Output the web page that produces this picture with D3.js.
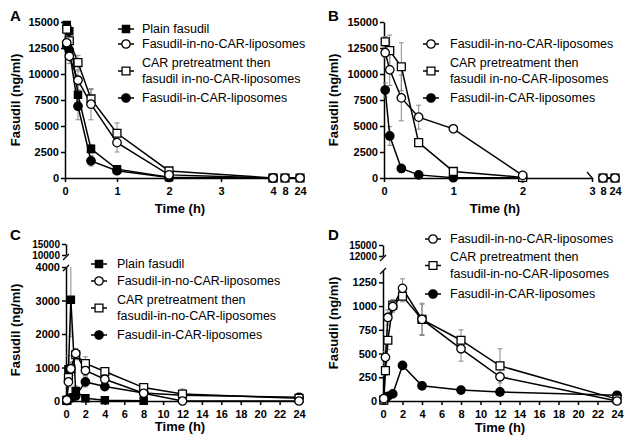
<!DOCTYPE html>
<html>
<head>
<meta charset="utf-8">
<script src="https://cdn.jsdelivr.net/npm/d3@7"></script>
<style>
  body { margin: 0; background: #fff; }
  text { font-family: "Liberation Sans", Arial, sans-serif; fill: #000; }
  .axis path, .axis line { stroke: #000; stroke-width: 1.5; }
  .axis text { font-size: 11px; font-weight: bold; }
  .axis.upper text { font-size: 10px; }
</style>
</head>
<body>
<svg id="chart" width="630" height="446"></svg>
<script>
// ---- data (ng/ml, SD) ----
const timesA = [0.033, 0.083, 0.25, 0.5, 1, 2, 4, 8, 24];
const plainA = [14700, 14100, 8000, 2800, 850, 80, 0];
const plainErrA = [400, 500, 900, 400, 150, 50, 0];
const noCarA = [13000, 11700, 9400, 7100, 3400, 300, 0, 0, 0];
const noCarErrA = [600, 700, 900, 1500, 900, 200, 0, 0, 0];
const carPreA = [14300, 13200, 11100, 7600, 4300, 680, 0, 0, 0];
const carPreErrA = [500, 600, 700, 900, 1000, 200, 0, 0, 0];
const inCarA = [12700, 12300, 6900, 1650, 700, 50, 0];
const inCarErrA = [500, 700, 1300, 500, 150, 50, 0];

const timesB = [0.017, 0.083, 0.25, 0.5, 1, 2, 8, 24];
const noCarB = [12050, 10400, 7700, 5850, 4730, 250, 0, 0];
const noCarErrB = [500, 1500, 2200, 1150, 150, 100, 0, 0];
const carPreB = [13100, 12250, 10700, 3400, 630, 60, 0, 0];
const carPreErrB = [500, 1500, 2300, 300, 100, 50, 0, 0];
const inCarB = [8460, 4040, 920, 300, 30, 10];
const inCarErrB = [700, 900, 200, 100, 20, 0];

const timesC = [0.083, 0.25, 0.5, 1, 2, 4, 8, 12, 24];
const plainC = [30, 950, 3020, 300, 80, 20, 10];
const plainErrC = [20, 400, 1100, 150, 30, 10, 5];
const noCarC = [30, 570, 960, 1420, 910, 650, 230, 0, 0];
const noCarErrC = [20, 150, 200, 150, 150, 100, 60, 0, 0];
const carPreC = [20, 700, 960, 1380, 1120, 880, 400, 210, 80];
const carPreErrC = [20, 150, 200, 150, 200, 120, 80, 150, 30];
const inCarC = [10, 40, 90, 150, 570, 430, 240, 170, 110];
const inCarErrC = [5, 20, 40, 50, 150, 80, 50, 40, 30];

const timesD = [0.083, 0.25, 0.5, 1, 2, 4, 8, 12, 24];
const noCarD = [25, 460, 880, 995, 1187, 860, 550, 255, 0];
const noCarErrD = [10, 60, 80, 60, 100, 170, 130, 130, 0];
const carPreD = [10, 320, 640, 1010, 1105, 860, 640, 370, 20];
const carPreErrD = [5, 50, 100, 60, 60, 160, 110, 180, 10];
const inCarD = [10, 25, 50, 75, 375, 160, 115, 95, 60];
const inCarErrD = [5, 10, 15, 15, 20, 15, 10, 10, 10];

const yTicksAB = [0, 2500, 5000, 7500, 10000, 12500, 15000];
const yTicksC = [0, 1000, 2000, 3000, 4000];
const yTicksD = [0, 250, 500, 750, 1000, 1250];
const xTicksCD = [0, 2, 4, 6, 8, 10, 12, 14, 16, 18, 20, 22, 24];

const labels = {
  plain: ['Plain fasudil'],
  noCar: ['Fasudil-in-no-CAR-liposomes'],
  carPreAB: ['CAR pretreatment then', 'fasudil in-no-CAR-liposomes'],
  carPreCD: ['CAR pretreatment then', 'fasudil-in-no-CAR-liposomes'],
  inCar: ['Fasudil-in-CAR-liposomes']
};

const styles = {
  plain: {shape: 'square', filled: true},
  noCar: {shape: 'circle', filled: false},
  carPre: {shape: 'square', filled: false},
  inCar: {shape: 'circle', filled: true}
};

const panels = [
  {
    letter: 'A', letterPos: [10, 21],
    times: timesA,
    xDomain: [0, 4], xRange: [65, 273], xTicks: [0, 1, 2, 3, 4],
    miniDomain: [8, 24], miniRange: [285, 300], miniTicks: [8, 24],
    yDomain: [0, 15000], yRange: [178, 22], yTicks: yTicksAB,
    yTitle: [15, 100], xTitle: [180, 213],
    series: [
      {key: 'plain', v: plainA, e: plainErrA},
      {key: 'inCar', v: inCarA, e: inCarErrA},
      {key: 'carPre', v: carPreA, e: carPreErrA},
      {key: 'noCar', v: noCarA, e: noCarErrA}
    ],
    legend: {sx: 126, tx: 142, items: [
      {key: 'plain', text: labels.plain, rows: [29]},
      {key: 'noCar', text: labels.noCar, rows: [44]},
      {key: 'carPre', text: labels.carPreAB, rows: [63, 79]},
      {key: 'inCar', text: labels.inCar, rows: [98]}
    ]}
  },
  {
    letter: 'B', letterPos: [328, 21],
    times: timesB,
    xDomain: [0, 3], xRange: [384, 592], xTicks: [0, 1, 2, 3], endSlash: true,
    miniDomain: [8, 24], miniRange: [603, 615], miniTicks: [8, 24],
    yDomain: [0, 15000], yRange: [178, 22], yTicks: yTicksAB,
    yTitle: [333, 100], xTitle: [495, 213],
    series: [
      {key: 'inCar', v: inCarB, e: inCarErrB},
      {key: 'carPre', v: carPreB, e: carPreErrB},
      {key: 'noCar', v: noCarB, e: noCarErrB}
    ],
    legend: {sx: 431, tx: 450, items: [
      {key: 'noCar', text: labels.noCar, rows: [44]},
      {key: 'carPre', text: labels.carPreAB, rows: [63, 79]},
      {key: 'inCar', text: labels.inCar, rows: [98]}
    ]}
  },
  {
    letter: 'C', letterPos: [10, 240],
    times: timesC,
    xDomain: [0, 24], xRange: [66, 299], xTicks: xTicksCD,
    yDomain: [0, 4000], yRange: [401, 267], yTicks: yTicksC,
    upperDomain: [10000, 15000], upperRange: [255, 244], upperTicks: [10000, 15000],
    yTitle: [15, 330], xTitle: [180, 431],
    series: [
      {key: 'plain', v: plainC, e: plainErrC},
      {key: 'inCar', v: inCarC, e: inCarErrC},
      {key: 'carPre', v: carPreC, e: carPreErrC},
      {key: 'noCar', v: noCarC, e: noCarErrC}
    ],
    legend: {sx: 99, tx: 117, items: [
      {key: 'plain', text: labels.plain, rows: [264]},
      {key: 'noCar', text: labels.noCar, rows: [281]},
      {key: 'carPre', text: labels.carPreCD, rows: [300, 316]},
      {key: 'inCar', text: labels.inCar, rows: [335]}
    ]}
  },
  {
    letter: 'D', letterPos: [328, 240],
    times: timesD,
    xDomain: [0, 24], xRange: [383, 617], xTicks: xTicksCD,
    yDomain: [0, 1380], yRange: [401, 270], yTicks: yTicksD,
    upperDomain: [12000, 15000], upperRange: [256, 245], upperTicks: [12000, 15000],
    yTitle: [333, 323], xTitle: [500, 432],
    series: [
      {key: 'inCar', v: inCarD, e: inCarErrD},
      {key: 'carPre', v: carPreD, e: carPreErrD},
      {key: 'noCar', v: noCarD, e: noCarErrD}
    ],
    legend: {sx: 433, tx: 450, items: [
      {key: 'noCar', text: labels.noCar, rows: [239]},
      {key: 'carPre', text: labels.carPreCD, rows: [257, 274]},
      {key: 'inCar', text: labels.inCar, rows: [294]}
    ]}
  }
];

const svg = d3.select('#chart');

function symbolPath(key) {
  const s = styles[key];
  return d3.symbol()
    .type(s.shape === 'square' ? d3.symbolSquare : d3.symbolCircle)
    .size(s.shape === 'square' ? (s.filled ? 52 : 62) : 56)();
}

function drawMarker(g, key, x, y) {
  const s = styles[key];
  g.append('path')
    .attr('d', symbolPath(key))
    .attr('transform', 'translate(' + x + ',' + y + ')')
    .attr('fill', s.filled ? '#000' : '#fff')
    .attr('stroke', '#000')
    .attr('stroke-width', 1.3);
}

function drawPanel(p) {
  const g = svg.append('g');

  const xMain = d3.scaleLinear().domain(p.xDomain).range(p.xRange);
  const xMini = p.miniDomain ? d3.scaleLinear().domain(p.miniDomain).range(p.miniRange) : null;
  const y = d3.scaleLinear().domain(p.yDomain).range(p.yRange);
  const isMini = t => xMini && t > p.xDomain[1];
  const xPos = t => isMini(t) ? xMini(t) : xMain(t);
  const y0 = p.yRange[0];
  const x0 = p.xRange[0];

  // axes
  g.append('g').attr('class', 'axis')
    .attr('transform', 'translate(0,' + y0 + ')')
    .call(d3.axisBottom(xMain).tickValues(p.xTicks).tickSize(4).tickSizeOuter(0).tickPadding(5).tickFormat(d3.format('d')));
  if (xMini) {
    g.append('g').attr('class', 'axis')
      .attr('transform', 'translate(0,' + y0 + ')')
      .call(d3.axisBottom(xMini).tickValues(p.miniTicks).tickSize(4).tickSizeOuter(0).tickPadding(5).tickFormat(d3.format('d')));
  }
  if (p.endSlash) {
    const xe = p.xRange[1];
    g.append('line').attr('x1', xe - 5).attr('y1', y0 - 6).attr('x2', xe + 1).attr('y2', y0 + 1)
      .attr('stroke', '#000').attr('stroke-width', 1.3);
  }
  g.append('g').attr('class', 'axis')
    .attr('transform', 'translate(' + x0 + ',0)')
    .call(d3.axisLeft(y).tickValues(p.yTicks).tickSize(4).tickSizeOuter(0).tickPadding(2).tickFormat(d3.format('d')));

  if (p.upperDomain) {
    const yUp = d3.scaleLinear().domain(p.upperDomain).range(p.upperRange);
    g.append('g').attr('class', 'axis upper')
      .attr('transform', 'translate(' + x0 + ',0)')
      .call(d3.axisLeft(yUp).tickValues(p.upperTicks).tickSize(4).tickSizeOuter(0).tickPadding(2).tickFormat(d3.format('d')));
    // break marks
    [p.upperRange[0] + 2, p.yRange[1] + 1].forEach(yy => {
      g.append('line').attr('x1', x0 - 3).attr('y1', yy + 3).attr('x2', x0 + 3).attr('y2', yy - 3)
        .attr('stroke', '#000').attr('stroke-width', 1.3);
    });
  }

  // error bars
  const yMax = p.yDomain[1];
  p.series.forEach(s => {
    s.v.forEach((v, i) => {
      const e = s.e[i];
      if (!e) return;
      const t = p.times[i];
      const cx = xPos(t);
      const top = y(Math.min(v + e, yMax));
      const bot = y(Math.max(v - e, 0));
      g.append('line').attr('x1', cx).attr('x2', cx).attr('y1', top).attr('y2', bot)
        .attr('stroke', '#8a8a8a').attr('stroke-width', 1);
      [top, bot].forEach(yy => {
        if (yy === y(yMax) && v + e > yMax) return;
        g.append('line').attr('x1', cx - 2.5).attr('x2', cx + 2.5).attr('y1', yy).attr('y2', yy)
          .attr('stroke', '#8a8a8a').attr('stroke-width', 1);
      });
    });
  });

  // lines
  const line = d3.line().x(d => xPos(d.t)).y(d => y(d.v));
  p.series.forEach(s => {
    const pts = s.v.map((v, i) => ({t: p.times[i], v: v}));
    const main = pts.filter(d => !isMini(d.t));
    const mini = pts.filter(d => isMini(d.t));
    [main, mini].forEach(seg => {
      if (seg.length < 2) return;
      g.append('path').datum(seg).attr('d', line)
        .attr('fill', 'none').attr('stroke', '#000').attr('stroke-width', 1.5);
    });
  });

  // markers
  p.series.forEach(s => {
    s.v.forEach((v, i) => drawMarker(g, s.key, xPos(p.times[i]), y(v)));
  });

  // titles
  g.append('text')
    .attr('transform', 'translate(' + p.yTitle[0] + ',' + p.yTitle[1] + ') rotate(-90)')
    .attr('text-anchor', 'middle').attr('dominant-baseline', 'central')
    .style('font-size', '13px').style('font-weight', 'bold')
    .text('Fasudil (ng/ml)');
  g.append('text')
    .attr('x', p.xTitle[0]).attr('y', p.xTitle[1])
    .attr('text-anchor', 'middle')
    .style('font-size', '13px').style('font-weight', 'bold')
    .text('Time (h)');
  g.append('text')
    .attr('x', p.letterPos[0]).attr('y', p.letterPos[1])
    .style('font-size', '15px').style('font-weight', 'bold')
    .text(p.letter);

  // legend
  const lg = p.legend;
  lg.items.forEach(it => {
    const my = d3.mean(it.rows);
    g.append('line').attr('x1', lg.sx - 8).attr('x2', lg.sx + 8).attr('y1', my).attr('y2', my)
      .attr('stroke', '#000').attr('stroke-width', 1.5);
    drawMarker(g, it.key, lg.sx, my);
    it.text.forEach((txt, j) => {
      g.append('text')
        .attr('x', lg.tx).attr('y', it.rows[j])
        .attr('dominant-baseline', 'central')
        .style('font-size', '12.5px')
        .text(txt);
    });
  });
}

panels.forEach(drawPanel);
</script>
</body>
</html>
